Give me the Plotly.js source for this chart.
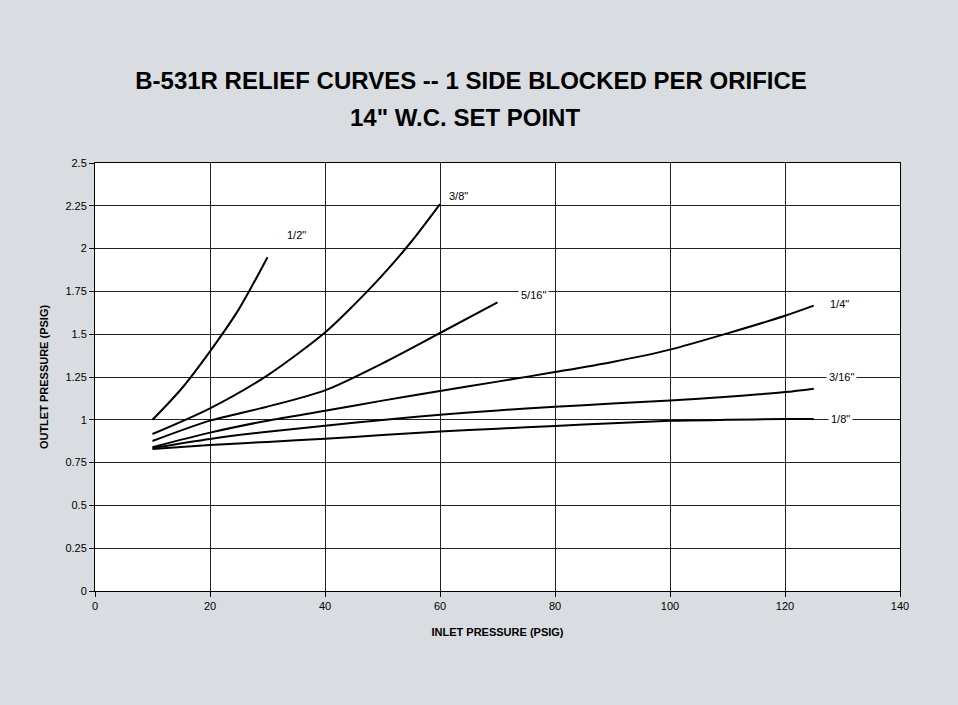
<!DOCTYPE html>
<html>
<head>
<meta charset="utf-8">
<script src="https://cdn.plot.ly/plotly-3.0.1.min.js"></script>
<style>html,body{margin:0;padding:0;background:#d9dce0;}#chart{width:958px;height:705px;}</style>
</head>
<body>
<div id="chart"></div>
<script>
// Data
const x_half = [10, 15, 20, 25, 30];
const y_half = [1.0, 1.18, 1.40, 1.645, 1.95];

const x_3_8 = [10, 20, 30, 40, 45, 50, 55, 60];
const y_3_8 = [0.917, 1.067, 1.26, 1.51, 1.67, 1.845, 2.04, 2.26];

const x_5_16 = [10, 20, 30, 40, 50, 60, 70];
const y_5_16 = [0.876, 0.995, 1.077, 1.172, 1.33, 1.507, 1.686];

const x_long = [10, 20, 30, 40, 50, 60, 70, 80, 90, 100, 110, 120, 125];
const y_1_4  = [0.84, 0.925, 0.995, 1.053, 1.112, 1.168, 1.223, 1.279, 1.338, 1.41, 1.505, 1.608, 1.667];
const y_3_16 = [0.835, 0.888, 0.93, 0.965, 0.999, 1.03, 1.055, 1.076, 1.095, 1.113, 1.135, 1.162, 1.182];
const y_1_8  = [0.83, 0.853, 0.871, 0.889, 0.911, 0.931, 0.948, 0.964, 0.980, 0.994, 1.0, 1.004, 1.005];

const seriesNames = ['1/2"', '3/8"', '5/16"', '1/4"', '3/16"', '1/8"'];
const labelX = [35, 63.2, 76.2, 129.4, 129.8, 129.6];
const labelY = [2.08, 2.307, 1.73, 1.676, 1.25, 1.005];
const labelBg = [null, null, 'white', null, 'white', 'white'];

const xTicks = [0, 20, 40, 60, 80, 100, 120, 140];
const yTicks = [0, 0.25, 0.5, 0.75, 1, 1.25, 1.5, 1.75, 2, 2.25, 2.5];
const yTickText = ['0', '0.25', '0.5', '0.75', '1', '1.25', '1.5', '1.75', '2', '2.25', '2.5'];

const xs = [x_half, x_3_8, x_5_16, x_long, x_long, x_long];
const ys = [y_half, y_3_8, y_5_16, y_1_4, y_3_16, y_1_8];

const traces = xs.map((xv, i) => ({
  x: xv, y: ys[i], type: 'scatter', mode: 'lines', name: seriesNames[i],
  line: {color: '#000', width: 2, shape: 'spline', smoothing: 0.8},
  hoverinfo: 'x+y+name'
}));

const FONT = 'Liberation Sans, Arial, sans-serif';

const annotations = seriesNames.map((n, i) => ({
  x: labelX[i], y: labelY[i], xref: 'x', yref: 'y', text: n, showarrow: false,
  font: {family: FONT, size: 11, color: '#000'},
  bgcolor: labelBg[i] || 'rgba(0,0,0,0)', borderpad: 2
}));
annotations.push({
  text: '14" W.C. SET POINT', xref: 'paper', yref: 'paper', x: 0.4596, y: 1.0,
  yshift: 46, showarrow: false, xanchor: 'center', yanchor: 'middle',
  font: {family: FONT, size: 24, color: '#000', weight: 'bold'}
});

const layout = {
  width: 958, height: 705,
  paper_bgcolor: '#d9dce0', plot_bgcolor: '#ffffff',
  margin: {l: 95, r: 58, t: 163, b: 114},
  showlegend: false,
  title: {
    text: 'B-531R RELIEF CURVES -- 1 SIDE BLOCKED PER ORIFICE',
    x: 0.4917, xanchor: 'center', y: 0.886, yanchor: 'middle',
    font: {family: FONT, size: 24, color: '#000', weight: 'bold'}
  },
  xaxis: {
    range: [0, 140], tickvals: xTicks, ticktext: xTicks.map(String),
    showgrid: true, gridcolor: '#222', gridwidth: 1,
    showline: true, linecolor: '#000', linewidth: 1, mirror: true,
    ticks: 'outside', ticklen: 5, tickcolor: '#000', zeroline: false,
    tickfont: {family: FONT, size: 11, color: '#000'},
    title: {text: 'INLET PRESSURE (PSIG)', standoff: 17,
      font: {family: FONT, size: 11, color: '#000', weight: 'bold'}}
  },
  yaxis: {
    range: [0, 2.5], tickvals: yTicks, ticktext: yTickText,
    showgrid: true, gridcolor: '#222', gridwidth: 1,
    showline: true, linecolor: '#000', linewidth: 1, mirror: true,
    ticks: 'outside', ticklen: 5, tickcolor: '#000', zeroline: false,
    tickfont: {family: FONT, size: 11, color: '#000'},
    title: {text: 'OUTLET PRESSURE (PSIG)', standoff: 14,
      font: {family: FONT, size: 11, color: '#000', weight: 'bold'}}
  },
  annotations: annotations
};

Plotly.newPlot('chart', traces, layout, {displayModeBar: false, staticPlot: true});
</script>
</body>
</html>
